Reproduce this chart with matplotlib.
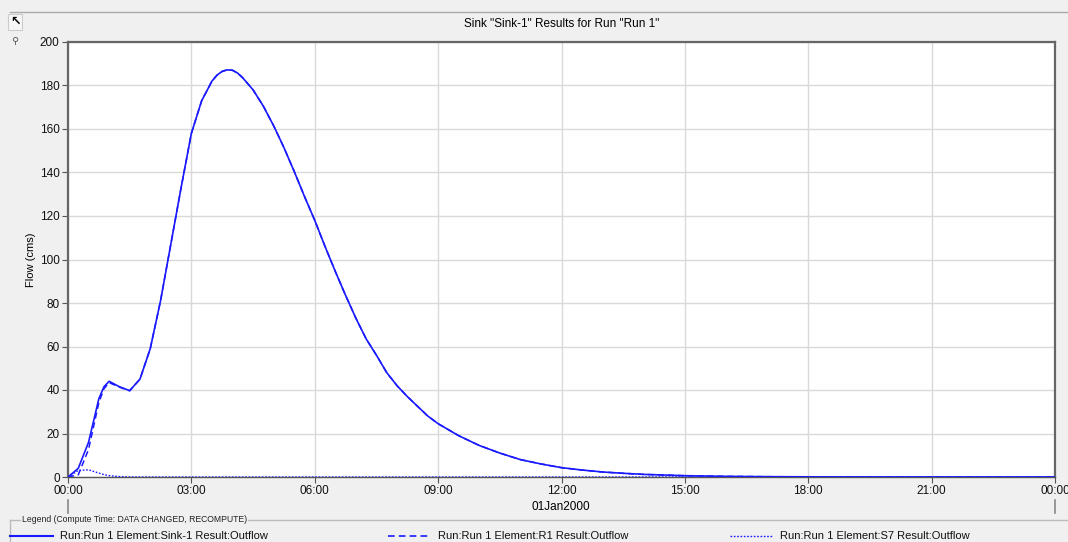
import numpy as np
import matplotlib.pyplot as plt
from matplotlib.lines import Line2D
from matplotlib.patches import Rectangle

plt.rcParams['font.family'] = ['Liberation Sans', 'DejaVu Sans']

# time in hours after 01Jan2000 00:00
hours = [0.0, 0.25, 0.5, 0.75, 0.875, 1.0, 1.25, 1.5, 1.75, 2.0, 2.25, 2.5, 2.75,
         3.0, 3.25, 3.5, 3.625, 3.75, 3.875, 4.0, 4.125, 4.25, 4.5, 4.75, 5.0, 5.25, 5.5, 5.75,
         6.0, 6.25, 6.5, 6.75, 7.0, 7.25, 7.5, 7.75, 8.0, 8.25, 8.5, 8.75,
         9.0, 9.5, 10.0, 10.5, 11.0, 11.5, 12.0, 12.5, 13.0, 13.5, 14.0,
         14.5, 15.0, 16.0, 17.0, 18.0, 19.0, 20.0, 21.0, 24.0]

sink_flow = [0, 4, 16, 36, 41.5, 44, 41.5, 39.7, 45, 59, 81, 107, 133,
             158, 173, 182, 184.8, 186.5, 187.2, 187, 185.7, 183.5, 178, 170.5, 161.5, 151.5, 140.5, 129,
             118, 106, 94.5, 83.5, 73, 63.5, 56, 48, 42, 37, 32.5, 28,
             24.5, 19, 14.5, 11, 8, 6, 4.3, 3.2, 2.3, 1.7, 1.2,
             0.9, 0.6, 0.3, 0.15, 0.08, 0.03, 0.01, 0, 0]

r1_flow = [0, 1.0, 12.7, 34.2, 40.6, 43.4, 41.3, 39.65, 45, 59, 81, 107, 133,
           158, 173, 182, 184.8, 186.5, 187.2, 187, 185.7, 183.5, 178, 170.5, 161.5, 151.5, 140.5, 129,
           118, 106, 94.5, 83.5, 73, 63.5, 56, 48, 42, 37, 32.5, 28,
           24.5, 19, 14.5, 11, 8, 6, 4.3, 3.2, 2.3, 1.7, 1.2,
           0.9, 0.6, 0.3, 0.15, 0.08, 0.03, 0.01, 0, 0]

s7_flow = [0, 3.0, 3.3, 1.8, 1.1, 0.6, 0.2, 0.05, 0, 0, 0, 0, 0,
           0, 0, 0, 0, 0, 0, 0, 0, 0, 0, 0, 0, 0, 0, 0,
           0, 0, 0, 0, 0, 0, 0, 0, 0, 0, 0, 0,
           0, 0, 0, 0, 0, 0, 0, 0, 0, 0, 0,
           0, 0, 0, 0, 0, 0, 0, 0, 0]

tick_hours = [0, 3, 6, 9, 12, 15, 18, 21, 24]
tick_labels = ['00:00', '03:00', '06:00', '09:00', '12:00', '15:00', '18:00', '21:00', '00:00']

legend_names = ['Run:Run 1 Element:Sink-1 Result:Outflow',
                'Run:Run 1 Element:R1 Result:Outflow',
                'Run:Run 1 Element:S7 Result:Outflow']

blue = '#1a1aff'
bg = '#f0f0f0'

fig = plt.figure(figsize=(10.68, 5.42), dpi=100, facecolor=bg)
ax = fig.add_axes([68/1068, 65/542, 987/1068, 435/542])
ax.set_facecolor('white')

ax.plot(hours, sink_flow, color=blue, lw=1.2, zorder=3)
ax.plot(hours, r1_flow, color=blue, lw=1.1, dashes=(4, 2.5), zorder=4)
ax.plot(hours, s7_flow, color=blue, lw=1.0, dashes=(1.2, 1.2), zorder=4)

ax.set_xlim(0, 24)
ax.set_ylim(0, 200)
ax.set_xticks(tick_hours)
ax.set_xticklabels(tick_labels)
ax.set_yticks(np.arange(0, 201, 20))
ax.grid(True, color='#d9d9d9', lw=1.0)
ax.set_axisbelow(True)
ax.tick_params(labelsize=8.5, length=4, color='#555555', pad=2, labelcolor='#111111')
for side in ['left', 'top', 'right']:
    ax.spines[side].set_color('#666666')
    ax.spines[side].set_linewidth(1.6)
ax.spines['bottom'].set_color('#555555')
ax.spines['bottom'].set_linewidth(1.0)
ax.set_ylabel('Flow (cms)', fontsize=8, labelpad=3)

ax.set_title('Sink "Sink-1" Results for Run "Run 1"', fontsize=8.5, pad=11)

# date label and day marks
fig.text(561/1068, 1 - 507/542, '01Jan2000', fontsize=8.5, ha='center', va='center')
for px in [68, 1055]:
    fig.add_artist(Line2D([px/1068, px/1068], [1 - 500/542, 1 - 513/542],
                          color='#888888', lw=1.2))

# top frame line and toolbar
fig.add_artist(Line2D([10/1068, 1], [1 - 12/542, 1 - 12/542], color='#aaaaaa', lw=1.0))
fig.add_artist(Rectangle((8/1068, 1 - 30/542), 14/1068, 16/542, transform=fig.transFigure,
                         facecolor='#f7f7f7', edgecolor='#cccccc', lw=0.8))
fig.text(15/1068, 1 - 22/542, '\u2196', fontsize=9, ha='center', va='center', fontweight='bold')
fig.text(15/1068, 1 - 41/542, '\u26b2', fontsize=7, ha='center', va='center', color='#555555')

# legend panel
ly = 1 - 520/542
fig.add_artist(Line2D([10/1068, 20/1068], [ly, ly], color='#bbbbbb', lw=1.0))
fig.add_artist(Line2D([248/1068, 1], [ly, ly], color='#bbbbbb', lw=1.0))
fig.add_artist(Line2D([10/1068, 10/1068], [ly, 0], color='#bbbbbb', lw=1.0))
fig.text(22/1068, ly, 'Legend (Compute Time: DATA CHANGED, RECOMPUTE)', fontsize=6.2,
         va='center', color='#222222')

ey = 1 - 536/542
styles = [dict(lw=1.5), dict(lw=1.2, dashes=(4, 2.5)), dict(lw=1.0, dashes=(1.2, 1.2))]
starts = [10, 388, 730]
for x0, name, st in zip(starts, legend_names, styles):
    fig.add_artist(Line2D([x0/1068, (x0 + 43)/1068], [ey, ey], color=blue, **st))
    fig.text((x0 + 50)/1068, ey, name, fontsize=8, va='center', color='#111111')

fig.savefig('out.png', dpi=100, facecolor=bg)
